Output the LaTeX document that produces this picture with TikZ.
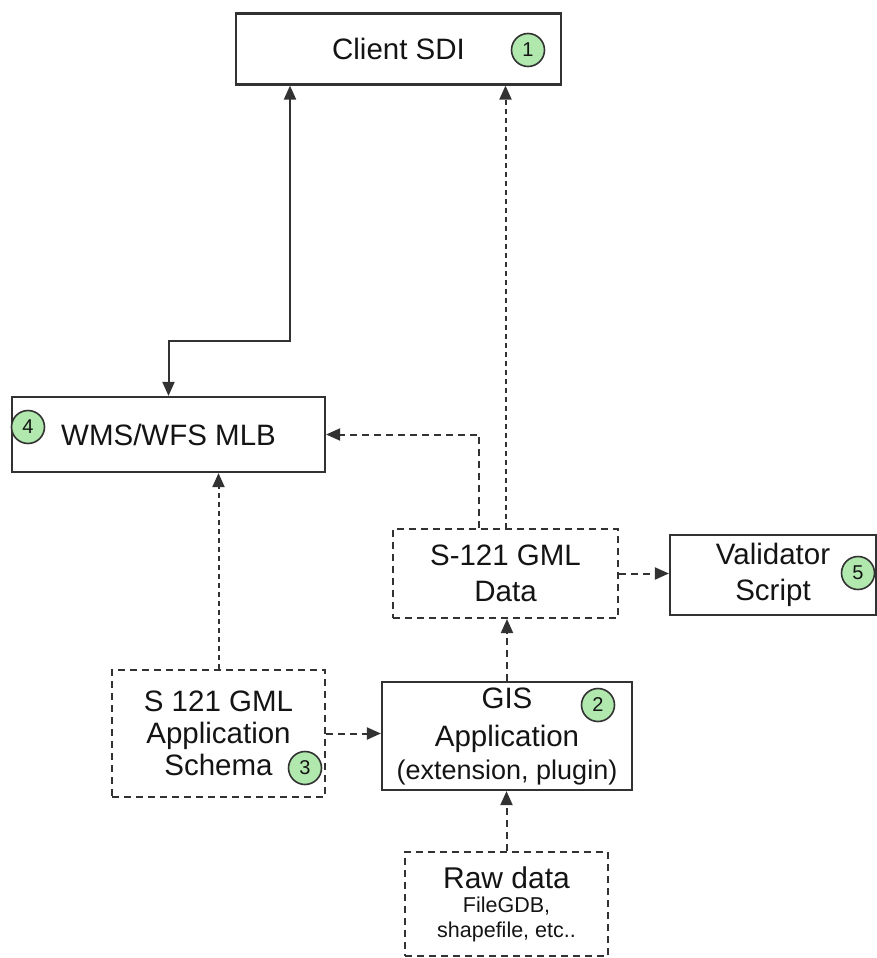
\documentclass[tikz,border=0pt]{standalone}
\usepackage{fontspec}
\setmainfont{Liberation Sans}
\usetikzlibrary{arrows.meta}
\definecolor{edge}{RGB}{50,50,50}
\definecolor{ink}{RGB}{20,20,20}
\definecolor{badge}{RGB}{176,232,174}
\tikzset{
  base/.style={rectangle, inner sep=0pt, align=center, text=ink, font=\fontsize{29.5}{36}\selectfont},
  sbox/.style={base, draw=edge, line width=2.2pt},
  dbox/.style={base, draw=edge, line width=2pt, dash pattern=on 7pt off 5pt},
  num/.style={circle, draw=edge, line width=1.6pt, fill=badge, minimum size=33pt, inner sep=0pt, text=ink, font=\fontsize{20}{20}\selectfont},
  tip/.style={-{Triangle[length=14pt,width=12pt]}},
  conn/.style={draw=edge, line width=2pt},
  dconn/.style={conn, dash pattern=on 7pt off 5pt},
  sconn/.style={conn, dash pattern=on 5pt off 4pt}
}
\begin{document}
\begin{tikzpicture}[x=1pt,y=-1pt]
\useasboundingbox (0,0) rectangle (877,958);
% boxes
\node[sbox, minimum width=325, minimum height=71] (sdi) at (398.5,49) {Client SDI};
\node[sbox, minimum width=313, minimum height=75] (wms) at (168.5,434.5) {WMS/WFS MLB};
\node[dbox, minimum width=225, minimum height=89] (gml) at (505.5,573.5) {S-121 GML\\Data};
\node[sbox, minimum width=206, minimum height=80] (val) at (773,575) {Validator\\Script};
\node[dbox, minimum width=213, minimum height=127, font=\fontsize{29.5}{32}\selectfont] (sch) at (218.5,733.5) {S 121 GML\\Application\\Schema};
\node[sbox, minimum width=250, minimum height=108, font=\fontsize{29.5}{38}\selectfont] (gis) at (507,736) {GIS\\Application\\[-5pt]{\fontsize{27}{30}\selectfont (extension, plugin)}};
\node[dbox, minimum width=203, minimum height=104, font=\fontsize{30}{24.5}\selectfont] (raw) at (506.5,904) {Raw data\\{\fontsize{21.5}{24}\selectfont FileGDB,}\\{\fontsize{21.5}{24}\selectfont shapefile, etc..}};
% badges
\node[num] (n1) at (528,50) {1};
\node[num] (n2) at (598,705) {2};
\node[num] (n3) at (305,768) {3};
\node[num] (n4) at (28,427) {4};
\node[num] (n5) at (858,573) {5};
% connectors
\coordinate (k1) at (290,341);
\coordinate (k2) at (479,434.5);
\draw[conn, {Triangle[length=14pt,width=12pt]}-{Triangle[length=14pt,width=12pt]}] (sdi.south -| k1) -- (k1) -| (wms.north);
\draw[dconn, tip] (gml.north -| k2) -- (k2) -- (wms.east);
\draw[sconn, tip] (gml.north) -- (sdi.south -| gml.north);
\draw[dconn, tip] (gml.east) -- (val.west |- gml.east);
\draw[sconn, tip] (sch.north) -- (wms.south -| sch.north);
\draw[dconn, tip] (sch.east) -- (gis.west |- sch.east);
\draw[dconn, tip] (gis.north) -- (gml.south -| gis.north);
\draw[dconn, tip] (raw.north) -- (gis.south -| raw.north);
\end{tikzpicture}
\end{document}
